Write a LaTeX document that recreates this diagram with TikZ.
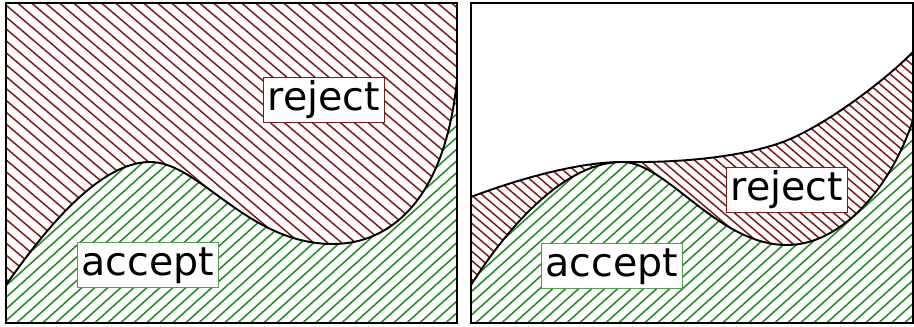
\documentclass[tikz,border=0pt]{standalone}
\usepackage{fontspec}
\setmainfont{DejaVu Sans}
\definecolor{rejred}{RGB}{128,24,24}
\definecolor{accgreen}{RGB}{30,140,30}
\definecolor{accedge}{RGB}{80,160,80}
\def\lowA{(6,285) .. controls (46,228) and (100,162) .. (150,162) .. controls (200,162) and (247,244) .. (333,244) .. controls (390,244) and (445,200) .. (457,80)}
\def\lowB{(471,285) .. controls (511,222) and (567,162) .. (622,162) .. controls (667,162) and (717,245) .. (787,245) .. controls (840,245) and (890,190) .. (913,120)}
\def\lowBrev{(913,120) .. controls (890,190) and (840,245) .. (787,245) .. controls (717,245) and (667,162) .. (622,162) .. controls (567,162) and (511,222) .. (471,285)}
\def\upB{(471,197) .. controls (521,178) and (580,162) .. (622,162) .. controls (680,163) and (740,157) .. (780,143) .. controls (820,129) and (880,85) .. (913,52)}
\tikzset{
  rejline/.style={rejred, line width=0.85pt},
  accline/.style={accgreen, line width=0.85pt},
  curve/.style={line width=1.1pt},
  panel/.style={line width=1.2pt},
  lbl/.style={fill=white, inner xsep=2.3pt, inner ysep=1.6pt, text height=17pt, text depth=5.4pt, font=\fontsize{22.5}{27}\selectfont, line width=0.6pt},
  rejlbl/.style={lbl, draw=rejred},
  acclbl/.style={lbl, draw=accedge}
}
\begin{document}
\begin{tikzpicture}[x=0.02cm, y=-0.02cm]
\useasboundingbox (0,0) rectangle (914,327);
% left panel
\begin{scope}
\clip (6,3) -- \lowA -- (457,3) -- cycle;
\foreach \i in {-420,-406,...,900} \draw[rejline] (\i,0) -- ++(400,340);
\end{scope}
\begin{scope}
\clip (6,323) -- \lowA -- (457,323) -- cycle;
\foreach \i in {-420,-407,...,900} \draw[accline] (\i,400) -- ++(400,-360);
\end{scope}
\draw[curve] \lowA;
\draw[panel] (6,3) rectangle (457,323);
\node[rejlbl] (rejA) at (324,100) {reject};
\node[acclbl] (accA) at (148,265) {accept};
% right panel
\begin{scope}
\clip (471,3) rectangle (913,323);
\begin{scope}
\clip \upB -- \lowBrev -- cycle;
\foreach \i in {0,11,...,1300} \draw[rejline] (\i,0) -- ++(400,340);
\end{scope}
\begin{scope}
\clip (471,323) -- \lowB -- (913,323) -- cycle;
\foreach \i in {0,13,...,1300} \draw[accline] (\i,400) -- ++(400,-360);
\end{scope}
\draw[curve] \upB;
\draw[curve] \lowB;
\end{scope}
\draw[panel] (471,3) rectangle (913,323);
\node[rejlbl] (rejB) at (787,190) {reject};
\node[acclbl] (accB) at (612,266) {accept};
\end{tikzpicture}
\end{document}
